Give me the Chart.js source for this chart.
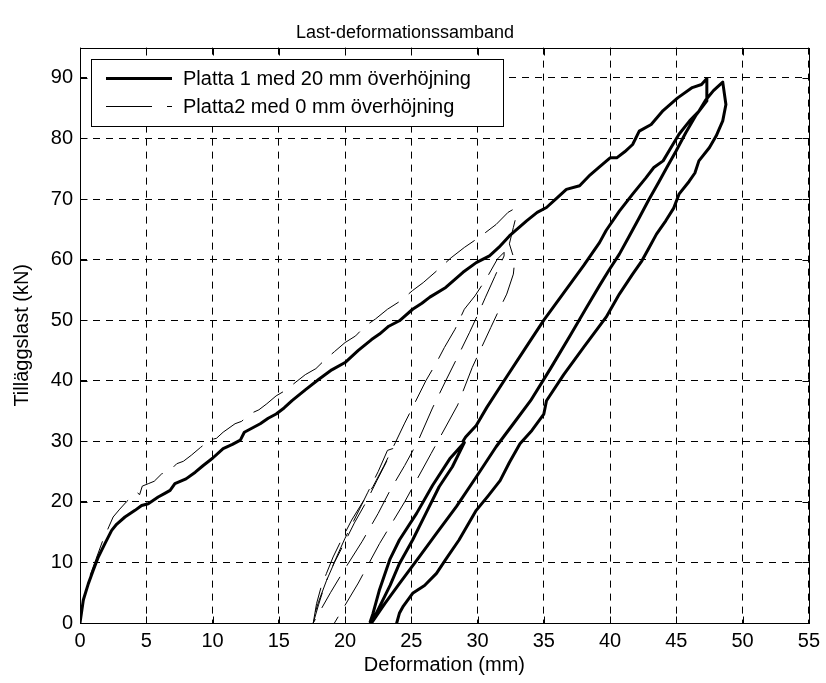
<!DOCTYPE html>
<html><head><meta charset="utf-8">
<script src="https://cdn.jsdelivr.net/npm/chart.js@4/dist/chart.umd.min.js"></script>
<style>html,body{margin:0;padding:0;background:#fff;overflow:hidden}</style>
</head><body>
<canvas id="c" width="826" height="683"></canvas>
<script>
const titleText = 'Last-deformationssamband';
const xLabel = 'Deformation (mm)';
const yLabel = 'Tilläggslast (kN)';
const seriesNames = ['Platta 1 med 20 mm överhöjning', 'Platta2 med 0 mm överhöjning'];
const xTicks = [0,5,10,15,20,25,30,35,40,45,50,55];
const yTicks = [0,10,20,30,40,50,60,70,80,90];

// Platta 1 branches [deformation mm, load kN]
const p1Loading = [[0,0],[0.25,3.8],[0.63,6.5],[1.0,8.7],[1.38,10.9],[1.88,13.1],[2.39,15.3],[2.76,16.3],[3.39,17.5],[4.15,18.6],[4.65,19.4],[5.15,19.7],[5.9,20.8],[6.4,21.4],[6.8,21.9],[7.16,23.0],[8.0,23.8],[8.7,24.9],[9.3,26.0],[10.0,27.2],[10.8,28.8],[11.5,29.5],[12.1,30.2],[12.4,31.5],[13.0,32.2],[13.6,32.9],[14.2,33.8],[14.8,34.5],[15.4,35.5],[16.0,36.7],[17.0,38.5],[18.0,40.2],[19.0,41.8],[20.0,43.0],[21.0,45.0],[22.0,46.8],[22.6,47.7],[23.3,49.0],[24.1,49.9],[25.1,51.8],[25.8,52.8],[26.4,53.8],[27.6,55.4],[28.9,57.9],[29.9,59.5],[30.9,60.6],[31.6,62.0],[32.4,63.9],[33.7,66.4],[34.5,67.8],[35.2,68.6],[36.0,70.2],[36.7,71.6],[37.7,72.2],[38.5,74.0],[39.2,75.3],[40.0,76.8],[40.5,76.8],[41.1,77.8],[41.7,79.0],[42.2,81.2],[43.1,82.3],[44.0,84.6],[45.1,86.7],[46.2,88.4],[46.9,88.9],[47.3,89.9],[47.3,86.2]];
const p1Unload1 = [[46.5,83.9],[45.7,80.9],[44.97,77.9],[44.3,75.3],[43.7,72.9],[42.9,69.8],[42.2,66.9],[41.4,63.7],[40.7,60.9],[39.9,58.2],[39.2,55.7],[38.2,52.0],[37.0,47.5],[35.5,42.0],[34.0,36.7],[32.7,32.9],[31.4,29.1],[29.9,24.1],[28.4,19.2],[26.9,14.8],[25.6,10.9],[24.1,6.5],[23.0,3.2],[22.0,0]];
const p1CycleUp = [[23.4,6.2],[24.1,9.8],[25.1,13.7],[26.1,18.1],[27.1,22.5],[28.1,25.8],[29.0,29.8]];
const p1CycleDown = [[27.9,27.1],[26.6,22.7],[25.4,18.1],[24.1,13.7],[23.4,10.6],[22.6,5.5],[22.1,1.5],[21.9,0.2]];
const p1Reload = [[28.9,30.0],[29.1,30.7],[29.9,32.6],[30.7,35.6],[32.0,40.0],[33.5,45.0],[35.0,50.0],[36.5,54.5],[38.0,59.0],[39.2,62.8],[39.7,64.8],[40.7,68.0],[41.7,70.8],[42.7,73.5],[43.3,75.2],[44.0,76.3],[44.6,78.5],[45.2,80.7],[46.0,82.9],[46.7,84.5],[47.2,86.3],[47.8,87.9],[48.5,89.3]];
const p1Unload2 = [[48.74,85.6],[48.5,82.9],[48.0,80.4],[47.5,78.5],[46.7,76.3],[46.4,74.3],[45.96,72.9],[45.2,70.8],[44.8,68.5],[44.2,66.4],[43.5,64.2],[42.9,61.8],[42.4,59.8],[41.7,57.6],[40.7,54.3],[39.7,50.5],[38.0,45.5],[36.5,41.0],[35.2,36.7],[35.0,34.5],[34.1,31.8],[33.2,29.6],[32.4,26.5],[31.7,23.5],[30.8,21.0],[29.9,18.6],[28.6,13.7],[27.6,10.5],[26.9,8.2],[26.0,6.2],[25.1,4.9],[24.4,2.8],[24.1,1.6],[23.9,0]];

// Platta 2 branches
const p2Loading = [[0,0],[0.3,4.0],[0.7,7.5],[1.2,10.5],[1.7,13.5],[2.2,16.0],[2.5,17.5],[3.0,18.8],[3.5,20.0],[4.27,21.6],[4.5,21.2],[4.7,22.6],[5.15,23.0],[5.6,23.4],[6.15,24.6],[6.8,25.2],[7.3,26.3],[7.8,26.7],[8.4,27.7],[9.1,29.0],[9.8,30.2],[10.3,30.5],[10.8,31.5],[11.7,32.9],[12.2,33.3],[12.8,34.5],[13.5,35.2],[14.1,36.2],[14.8,37.5],[15.5,38.4],[16.3,39.8],[17.0,41.0],[17.8,42.0],[18.5,43.5],[19.2,44.8],[20.0,46.3],[20.8,47.4],[21.5,49.0],[22.3,50.2],[23.2,51.8],[24.2,53.2],[25.1,54.9],[25.9,56.2],[27.0,58.3],[28.0,60.3],[29.0,62.0],[30.2,63.8],[31.4,65.8],[32.3,67.8],[32.7,68.3],[32.95,67.5],[32.7,65.3],[32.4,62.6],[32.8,59.8]];
const p2Unload1 = [[32.7,57.6],[32.2,54.3],[31.6,51.6],[31.0,48.8],[30.3,45.5],[29.6,42.2],[28.5,36.0],[26.5,28.0],[24.5,20.0],[22.6,13.1],[21.0,6.6],[19.2,0]];
const p2Cycle = [[17.6,0],[17.85,3.2],[18.2,6.0],[18.6,8.2],[19.1,10.9],[19.7,13.6],[20.5,17.0],[21.4,20.2],[22.1,22.5],[22.9,25.8],[23.4,28.0],[23.8,29.8]];
const p2Reload = [[24.5,33.0],[25.3,36.5],[26.1,40.0],[26.9,43.0],[27.5,45.5],[28.3,48.5],[29.0,51.8],[29.8,54.0],[30.7,57.0],[31.5,60.1],[32.0,61.2]];
const p2Unload2 = [[32.0,60.6],[31.3,57.2],[30.6,53.8],[30.1,51.3],[29.4,48.0],[28.6,44.4],[27.6,40.0],[26.6,35.5],[25.5,30.0],[24.5,26.0],[23.4,21.9],[22.5,18.1],[21.3,13.5],[20.0,9.0],[18.9,5.0],[17.6,0]];
const p2Recycle = [[18.0,3.0],[18.5,6.5],[19.2,10.0],[19.9,13.0],[20.7,16.5],[21.6,20.0],[22.4,23.5],[23.1,26.5],[23.6,28.8],[23.2,28.5],[22.5,25.0],[21.7,21.5],[20.8,17.5],[20.0,14.0],[19.3,10.6],[18.6,7.0],[18.0,3.5],[17.5,0]];

function joinBranches(list) {
  const pts = [];
  list.forEach(b => {
    if (b === null) { pts.push({x: pts[pts.length - 1].x, y: null}); return; }
    b.forEach(p => pts.push({x: p[0], y: p[1]}));
  });
  return pts;
}

const FONT = "'Liberation Sans', Arial, Helvetica, sans-serif";
Chart.defaults.font.family = FONT;
Chart.defaults.color = '#000';

const framePlugin = {
  id: 'frame',
  afterDraw(chart) {
    const {ctx, chartArea: a, scales} = chart;
    const xs = scales.x, ys = scales.y;
    ctx.save();
    ctx.setLineDash([]);
    ctx.strokeStyle = '#000';
    ctx.lineWidth = 1;
    const L = Math.round(a.left) + 0.5, T = Math.round(a.top) + 0.5;
    const R = Math.round(a.right) + 0.5, B = Math.round(a.bottom) + 0.5;
    ctx.strokeRect(L, T, R - L, B - T);
    const tl = 7;
    ctx.beginPath();
    xTicks.forEach(v => {
      const px = Math.round(xs.getPixelForValue(v)) + 0.5;
      ctx.moveTo(px, B); ctx.lineTo(px, B - tl);
      ctx.moveTo(px, T); ctx.lineTo(px, T + tl);
    });
    yTicks.forEach(v => {
      const py = Math.round(ys.getPixelForValue(v)) + 0.5;
      ctx.moveTo(L, py); ctx.lineTo(L + tl, py);
      ctx.moveTo(R, py); ctx.lineTo(R - tl, py);
    });
    ctx.stroke();

    // legend box
    const lx = 91.5, ly = 59.5, lw = 412, lh = 67;
    ctx.fillStyle = '#fff';
    ctx.fillRect(lx, ly, lw, lh);
    ctx.strokeRect(lx, ly, lw, lh);
    const rows = [ly + 18, ly + 46];
    chart.data.datasets.forEach((ds, i) => {
      const yy = Math.round(rows[i]) + 0.5;
      ctx.save();
      ctx.strokeStyle = ds.borderColor;
      ctx.lineWidth = ds.borderWidth;
      ctx.setLineDash(i === 1 ? [46, 15] : []);
      ctx.beginPath();
      ctx.moveTo(106, yy); ctx.lineTo(172, yy);
      ctx.stroke();
      ctx.restore();
      ctx.fillStyle = '#000';
      ctx.font = '20px ' + FONT;
      ctx.textBaseline = 'middle';
      ctx.textAlign = 'left';
      ctx.fillText(ds.label, 183, yy + 1);
    });
    ctx.restore();
  }
};

new Chart(document.getElementById('c'), {
  type: 'scatter',
  data: {
    datasets: [
      {
        label: seriesNames[0],
        data: joinBranches([p1Loading, p1Unload1, p1CycleUp, p1CycleDown, null, p1Reload, p1Unload2]),
        showLine: true, borderColor: '#000', borderWidth: 3, pointRadius: 0,
        borderJoinStyle: 'round', borderCapStyle: 'round', tension: 0, spanGaps: false
      },
      {
        label: seriesNames[1],
        data: joinBranches([p2Loading, p2Unload1, null, p2Cycle, p2Reload, p2Unload2, p2Recycle]),
        showLine: true, borderColor: '#000', borderWidth: 1, pointRadius: 0,
        borderDash: [36, 13], tension: 0, spanGaps: false
      }
    ]
  },
  options: {
    responsive: false,
    animation: false,
    devicePixelRatio: 1,
    layout: {padding: {left: 0, right: 16, top: 0, bottom: 0}},
    plugins: {
      legend: {display: false},
      tooltip: {enabled: false},
      title: {display: true, text: titleText, font: {size: 18, weight: 'normal'}, color: '#000', padding: {top: 22, bottom: 4}}
    },
    scales: {
      x: {
        type: 'linear', min: 0, max: 55,
        afterBuildTicks: s => { s.ticks = xTicks.map(v => ({value: v})); },
        afterFit: s => { s.height = 60; },
        ticks: {font: {size: 20}, color: '#000', padding: 6, maxRotation: 0, autoSkip: false},
        grid: {color: '#000', lineWidth: 1, drawTicks: false},
        border: {display: false, dash: [7, 6]},
        title: {display: true, text: xLabel, font: {size: 20}, color: '#000', padding: {top: 0, bottom: 6}}
      },
      y: {
        type: 'linear', min: 0, max: 95,
        afterBuildTicks: s => { s.ticks = yTicks.map(v => ({value: v})); },
        afterFit: s => { s.width = 80; },
        ticks: {font: {size: 20}, color: '#000', padding: 7, autoSkip: false},
        grid: {color: '#000', lineWidth: 1, drawTicks: false},
        border: {display: false, dash: [7, 6]},
        title: {display: true, text: yLabel, font: {size: 20}, color: '#000', padding: {top: 10, bottom: 0}}
      }
    }
  },
  plugins: [framePlugin]
});
</script>
</body></html>
